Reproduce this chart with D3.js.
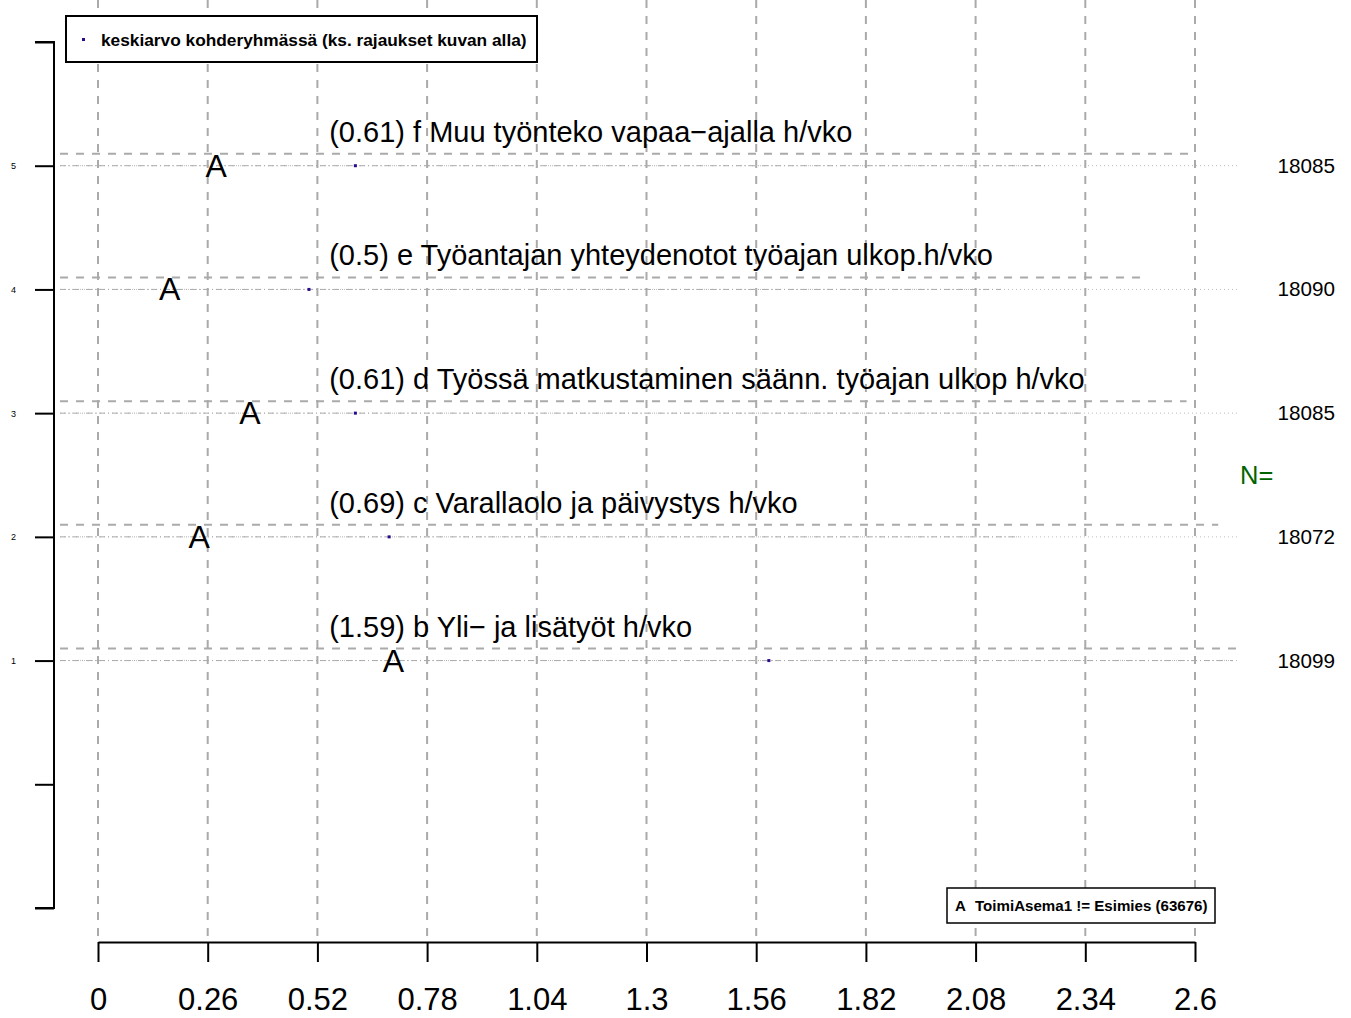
<!DOCTYPE html>
<html>
<head>
<meta charset="utf-8">
<script src="https://cdn.jsdelivr.net/npm/d3@7"></script>
<style>
  body { margin: 0; background: #fff; }
  svg { display: block; font-family: "Liberation Sans", Arial, sans-serif; }
</style>
</head>
<body>
<div id="chart"></div>
<script>
// rows from bottom (1) to top (5)
const rowPos = [1, 2, 3, 4, 5];
const rowLabels = [
    "b Yli\u2212 ja lisätyöt h/vko",
    "c Varallaolo ja päivystys h/vko",
    "d Työssä matkustaminen säänn. työajan ulkop h/vko",
    "e Työantajan yhteydenotot työajan ulkop.h/vko",
    "f Muu työnteko vapaa\u2212ajalla h/vko"
];
const meanValues = [1.59, 0.69, 0.61, 0.5, 0.61];
const groupAValues = [0.70, 0.24, 0.36, 0.17, 0.28];
const nValues = [18099, 18072, 18085, 18090, 18085];
const upperLineEnd = [2.71, 2.655, 2.58, 2.47, 2.60];
const dashDotEnd = [2.69, 2.19, 2.33, 2.14, 2.25];
const lineStart = -0.09;
const dottedEnd = 2.70;
const xTicks = [0, 0.26, 0.52, 0.78, 1.04, 1.3, 1.56, 1.82, 2.08, 2.34, 2.6];
const yTicks = [-1, 0, 1, 2, 3, 4, 5, 6];

const width = 1351, height = 1018;

const svg = d3.select("#chart").append("svg")
    .attr("width", width)
    .attr("height", height);

const x = d3.scaleLinear().domain([0, 2.6]).range([98, 1195]);
const y = d3.scaleLinear().domain([-1, 6]).range([908, 42]);

// vertical grid
svg.append("g").selectAll("line")
    .data(xTicks)
    .enter().append("line")
    .attr("x1", d => x(d)).attr("x2", d => x(d))
    .attr("y1", 0).attr("y2", 942)
    .attr("stroke", "#aaaaaa")
    .attr("stroke-width", 2)
    .attr("stroke-dasharray", "8,8");

const rows = rowPos.map((p, i) => ({
    pos: p, label: rowLabels[i], mean: meanValues[i], a: groupAValues[i],
    n: nValues[i], upper: upperLineEnd[i], dd: dashDotEnd[i]
}));

const rowG = svg.append("g").selectAll("g")
    .data(rows)
    .enter().append("g");

// dotted line across full width
rowG.append("line")
    .attr("x1", x(lineStart)).attr("x2", x(dottedEnd))
    .attr("y1", d => y(d.pos)).attr("y2", d => y(d.pos))
    .attr("stroke", "#bbbbbb")
    .attr("stroke-width", 1)
    .attr("stroke-dasharray", "1,3");

// dash-dot line
rowG.append("line")
    .attr("x1", x(lineStart)).attr("x2", d => x(d.dd))
    .attr("y1", d => y(d.pos)).attr("y2", d => y(d.pos))
    .attr("stroke", "#aaaaaa")
    .attr("stroke-width", 1)
    .attr("stroke-dasharray", "6,3,1,3");

// dashed upper line
rowG.append("line")
    .attr("x1", x(lineStart)).attr("x2", d => x(d.upper))
    .attr("y1", d => y(d.pos) - 12).attr("y2", d => y(d.pos) - 12)
    .attr("stroke", "#aaaaaa")
    .attr("stroke-width", 2)
    .attr("stroke-dasharray", "8,8");

// mean point
rowG.append("rect")
    .attr("x", d => x(d.mean) - 1.5)
    .attr("y", d => y(d.pos) - 1.5)
    .attr("width", 3).attr("height", 3)
    .attr("fill", "#2a0a8c");

// group A letter
rowG.append("text")
    .attr("x", d => x(d.a))
    .attr("y", d => y(d.pos) + 11)
    .attr("text-anchor", "middle")
    .style("font-size", "32px")
    .text("A");

// row label
rowG.append("text")
    .attr("x", x(0.548))
    .attr("y", d => y(d.pos) - 24)
    .style("font-size", "29px")
    .text(d => `(${d.mean}) ${d.label}`);

// N values
rowG.append("text")
    .attr("x", 1335)
    .attr("y", d => y(d.pos) + 7)
    .attr("text-anchor", "end")
    .style("font-size", "20.7px")
    .text(d => d.n);

svg.append("text")
    .attr("x", 1240)
    .attr("y", 484)
    .style("font-size", "25.5px")
    .style("fill", "#006400")
    .text("N=");

// left axis
const yAxis = d3.axisLeft(y)
    .tickValues(yTicks)
    .tickSize(19)
    .tickPadding(19)
    .tickFormat(d => (d >= 1 && d <= 5) ? d : "");
const yAxisG = svg.append("g")
    .attr("transform", "translate(54,0)")
    .call(yAxis);
yAxisG.select(".domain").attr("d", `M-19,${y(6)}H0V${y(-1)}H-19`).attr("stroke-width", 2);
yAxisG.selectAll(".tick line").attr("stroke-width", 2);
yAxisG.selectAll(".tick text").style("font-size", "9px").style("font-family", "Liberation Sans, Arial, sans-serif");

// bottom axis
const xAxis = d3.axisBottom(x)
    .tickValues(xTicks)
    .tickSize(20)
    .tickSizeOuter(0)
    .tickPadding(26)
    .tickFormat(d => d3.format("")(d));
const xAxisG = svg.append("g")
    .attr("transform", "translate(0,942)")
    .call(xAxis);
xAxisG.select(".domain").attr("stroke-width", 2);
xAxisG.selectAll(".tick line").attr("stroke-width", 2);
xAxisG.selectAll(".tick text").style("font-size", "31px").style("font-family", "Liberation Sans, Arial, sans-serif");

// top legend
const legTop = svg.append("g");
legTop.append("rect")
    .attr("x", 66).attr("y", 16).attr("width", 471).attr("height", 46)
    .attr("fill", "#fff").attr("stroke", "#000").attr("stroke-width", 2);
legTop.append("rect")
    .attr("x", 82).attr("y", 38).attr("width", 3).attr("height", 3)
    .attr("fill", "#2a0a8c");
legTop.append("text")
    .attr("x", 101).attr("y", 46)
    .style("font-size", "17.3px")
    .style("font-weight", "bold")
    .text("keskiarvo kohderyhmässä (ks. rajaukset kuvan alla)");

// bottom legend
const legBot = svg.append("g");
legBot.append("rect")
    .attr("x", 947).attr("y", 888).attr("width", 268).attr("height", 35)
    .attr("fill", "#fff").attr("stroke", "#000").attr("stroke-width", 1.5);
legBot.append("text")
    .attr("x", 955).attr("y", 911)
    .style("font-size", "15.1px")
    .style("font-weight", "bold")
    .text("A");
legBot.append("text")
    .attr("x", 975).attr("y", 911)
    .style("font-size", "15.1px")
    .style("font-weight", "bold")
    .text("ToimiAsema1 != Esimies (63676)");
</script>
</body>
</html>
